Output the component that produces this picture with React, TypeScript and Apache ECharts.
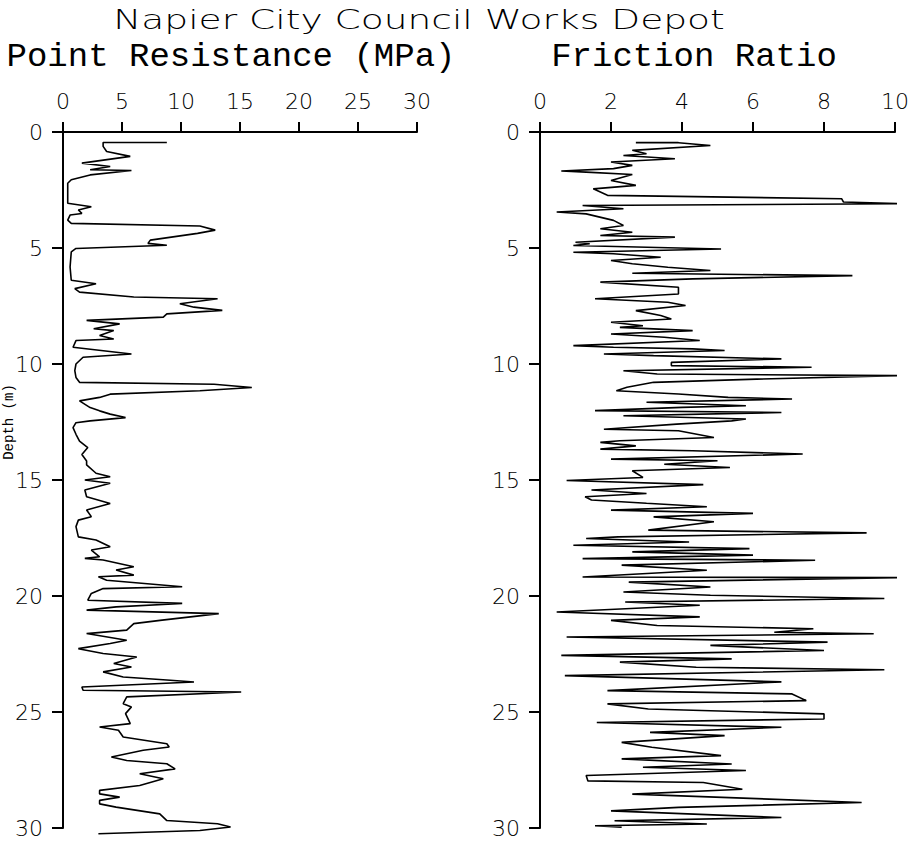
import React, { useEffect, useRef } from "react";
import * as echarts from "echarts";

const TITLE = "Napier City Council Works Depot";
const LEFT_TITLE = "Point Resistance (MPa)";
const RIGHT_TITLE = "Friction Ratio";
const DEPTH_TITLE = "Depth (m)";

const depthTicks = [0, 5, 10, 15, 20, 25, 30];
const qcTicks = [0, 5, 10, 15, 20, 25, 30];
const frTicks = [0, 2, 4, 6, 8, 10];

// Point resistance profile (depth m, qc MPa)
const qcDepth = [
  0.45, 0.45, 0.62, 0.84, 1.05, 1.34, 1.49, 1.63, 1.66, 1.85, 2.06, 2.21, 2.64, 3.07, 3.22, 3.36, 3.51, 3.58, 3.8, 3.94,
  4.05, 4.23, 4.37, 4.66, 4.8, 4.88, 5.02, 5.17, 5.82, 6.39, 6.54, 6.75, 6.9, 7.11, 7.19, 7.4, 7.55, 7.69, 7.84, 7.98,
  8.12, 8.27, 8.48, 8.56, 8.77, 8.92, 8.99, 9.28, 9.57, 9.71, 10.0, 10.29, 10.58, 10.79, 10.87, 11.01, 11.15, 11.3, 11.44, 11.59,
  11.88, 12.02, 12.16, 12.31, 12.45, 12.53, 12.74, 13.03, 13.32, 13.6, 13.9, 14.18, 14.35, 14.71, 14.86, 15.0, 15.14, 15.43, 15.72, 16.01,
  16.29, 16.58, 16.73, 17.01, 17.45, 17.59, 17.88, 18.02, 18.31, 18.38, 18.45, 18.74, 18.88, 19.1, 19.17, 19.32, 19.6, 19.68, 19.89, 20.18,
  20.32, 20.47, 20.61, 20.76, 21.04, 21.19, 21.47, 21.62, 21.91, 22.05, 22.27, 22.48, 22.63, 22.91, 23.06, 23.27, 23.49, 23.63, 23.71, 23.92,
  24.06, 24.14, 24.35, 24.64, 24.78, 25.07, 25.5, 25.65, 25.79, 26.08, 26.37, 26.51, 26.65, 26.94, 27.09, 27.23, 27.45, 27.66, 27.88, 28.17,
  28.38, 28.53, 28.67, 28.81, 28.96, 29.1, 29.39, 29.68, 29.82, 29.96, 30.11, 30.25
];
const qcValue = [
  8.8, 3.4, 3.4, 3.7, 5.7, 1.6, 4.0, 2.3, 5.8, 2.3, 0.7, 0.4, 0.4, 0.4, 2.4, 1.3, 1.6, 0.6, 0.4, 0.7,
  11.6, 12.9, 11.4, 7.4, 7.2, 8.8, 1.1, 0.7, 0.6, 0.7, 2.8, 1.0, 1.4, 6.0, 13.1, 9.9, 11.1, 13.5, 8.8, 8.5,
  2.0, 4.8, 2.6, 4.3, 3.1, 4.3, 1.1, 0.85, 5.8, 1.7, 1.1, 1.0, 1.1, 1.4, 12.8, 16.0, 11.6, 4.0, 3.1, 1.4,
  2.3, 3.1, 4.0, 5.3, 2.3, 1.1, 0.85, 1.1, 1.4, 2.1, 1.6, 2.0, 2.0, 2.8, 4.0, 1.85, 4.0, 1.85, 2.0, 4.0,
  2.0, 2.4, 1.3, 1.1, 1.3, 2.8, 4.0, 2.4, 3.1, 1.85, 3.4, 6.0, 4.5, 6.0, 3.0, 3.7, 10.1, 3.4, 2.4, 2.1,
  10.1, 4.5, 2.0, 13.2, 8.4, 6.0, 5.4, 2.0, 5.4, 4.0, 1.3, 3.4, 6.25, 4.3, 5.8, 3.4, 5.1, 9.1, 11.1, 1.6,
  1.7, 15.1, 5.4, 5.1, 5.8, 5.3, 5.7, 3.1, 4.7, 5.1, 8.8, 9.0, 6.8, 4.1, 5.4, 8.8, 9.5, 6.5, 8.5, 6.5,
  3.1, 3.1, 4.8, 3.1, 3.1, 4.5, 8.2, 8.8, 13.1, 14.2, 11.6, 3.0
];

// Friction ratio profile (depth m, ratio)
const frDepth = [
  0.46, 0.46, 0.58, 0.79, 0.94, 1.01, 1.15, 1.29, 1.44, 1.58, 1.68, 1.73, 1.83, 2.09, 2.3, 2.45, 2.73, 2.88, 3.02, 3.09,
  3.17, 3.31, 3.45, 3.53, 3.81, 4.03, 4.17, 4.32, 4.46, 4.53, 4.75, 4.82, 4.89, 5.04, 5.18, 5.25, 5.4, 5.54, 5.68, 5.83,
  5.97, 6.09, 6.19, 6.33, 6.47, 6.69, 6.98, 7.19, 7.34, 7.48, 7.7, 7.91, 8.06, 8.2, 8.35, 8.42, 8.56, 8.71, 8.85, 8.99,
  9.21, 9.28, 9.35, 9.42, 9.57, 9.64, 9.78, 9.93, 10.07, 10.14, 10.29, 10.43, 10.5, 10.65, 10.79, 11.0, 11.15, 11.29, 11.44, 11.51,
  11.65, 11.8, 11.87, 12.01, 12.09, 12.23, 12.37, 12.45, 12.59, 12.81, 12.88, 13.17, 13.31, 13.38, 13.53, 13.67, 13.74, 13.88, 14.1, 14.17,
  14.32, 14.46, 14.6, 14.89, 15.02, 15.2, 15.43, 15.58, 15.72, 15.86, 16.0, 16.15, 16.3, 16.44, 16.59, 16.8, 17.16, 17.28, 17.45, 17.52,
  17.67, 17.81, 17.96, 18.1, 18.24, 18.39, 18.46, 18.67, 18.89, 19.18, 19.21, 19.4, 19.61, 19.83, 19.97, 20.11, 20.26, 20.4, 20.69, 20.9,
  21.05, 21.27, 21.41, 21.56, 21.63, 21.77, 21.99, 22.13, 22.35, 22.56, 22.71, 22.85, 23.07, 23.18, 23.43, 23.7, 24.08, 24.22, 24.51, 24.65,
  24.87, 25.08, 25.3, 25.45, 25.66, 25.88, 26.02, 26.31, 26.52, 26.88, 27.02, 27.24, 27.38, 27.52, 27.74, 27.97, 28.04, 28.33, 28.54, 28.9,
  29.11, 29.26, 29.55, 29.69, 29.83, 29.9, 29.97
];
const frValue = [
  2.7, 3.9, 4.8, 2.6, 3.0, 2.35, 3.8, 2.0, 2.6, 2.07, 0.6, 1.3, 2.6, 2.0, 2.7, 1.5, 1.9, 8.5, 8.55, 10.1,
  1.2, 2.35, 0.47, 1.3, 2.07, 2.35, 1.7, 2.6, 1.7, 3.8, 1.0, 1.4, 0.94, 5.1, 0.94, 2.07, 3.4, 2.0, 2.6, 3.6,
  4.8, 2.6, 8.8, 4.3, 1.7, 3.9, 3.9, 1.55, 3.6, 4.1, 2.7, 3.4, 3.7, 2.0, 2.9, 2.25, 4.3, 2.0, 3.5, 4.5,
  0.94, 2.07, 4.3, 5.2, 1.8, 3.2, 6.8, 3.7, 3.7, 7.65, 2.35, 3.3, 10.1, 6.1, 3.2, 2.45, 2.15, 3.9, 5.3, 7.1,
  3.0, 5.8, 4.0, 1.55, 6.8, 2.35, 5.8, 5.4, 3.85, 1.8, 3.9, 4.9, 2.25, 1.7, 2.7, 1.7, 4.3, 7.4, 2.0, 5.0,
  3.5, 5.35, 2.6, 2.9, 0.75, 4.6, 1.45, 3.0, 1.27, 1.45, 3.0, 4.7, 2.0, 6.0, 3.2, 4.9, 3.05, 9.2, 2.2, 1.3,
  4.2, 0.94, 5.9, 2.6, 6.0, 1.2, 7.75, 2.3, 4.7, 1.2, 10.1, 2.5, 4.8, 2.35, 4.8, 9.7, 2.4, 4.5, 0.47, 4.5,
  2.0, 3.3, 7.7, 6.6, 9.4, 0.75, 8.1, 4.8, 8.0, 0.6, 5.4, 2.25, 4.4, 9.7, 0.7, 6.8, 1.9, 7.1, 7.5, 1.9,
  3.05, 8.0, 8.0, 1.6, 6.8, 3.1, 5.2, 2.3, 3.15, 5.1, 2.3, 5.4, 2.9, 5.8, 1.3, 1.35, 4.6, 5.7, 2.6, 9.06,
  3.9, 2.0, 6.8, 2.1, 4.7, 1.55, 2.3
];

const TICK_FONT = "DejaVu Sans";
const MONO_FONT = "Liberation Mono";

function measure(text: string, font: string): number {
  const c = document.createElement("canvas").getContext("2d");
  if (!c) return 1;
  c.font = font;
  return c.measureText(text).width || 1;
}

function makeX(gridIndex: number, ticks: number[]) {
  return {
    type: "value",
    gridIndex,
    position: "top",
    min: ticks[0],
    max: ticks[ticks.length - 1],
    interval: ticks[1] - ticks[0],
    axisLine: { show: true, lineStyle: { color: "#000", width: 2 } },
    axisTick: { show: true, inside: false, length: 10, lineStyle: { color: "#000", width: 2 } },
    axisLabel: { color: "#000", fontFamily: TICK_FONT, fontSize: 22, fontWeight: 200, margin: 20 },
    splitLine: { show: false },
  };
}

function makeY(gridIndex: number, ticks: number[]) {
  return {
    type: "value",
    gridIndex,
    inverse: true,
    min: ticks[0],
    max: ticks[ticks.length - 1],
    interval: ticks[1] - ticks[0],
    axisLine: { show: true, lineStyle: { color: "#000", width: 2 } },
    axisTick: { show: true, inside: false, length: 11, lineStyle: { color: "#000", width: 2 } },
    axisLabel: { color: "#000", fontFamily: TICK_FONT, fontSize: 22, fontWeight: 200, margin: 20 },
    splitLine: { show: false },
  };
}

export default function App() {
  const ref = useRef<HTMLDivElement>(null);
  useEffect(() => {
    if (!ref.current) return;
    const chart = echarts.init(ref.current, null, { renderer: "svg" });

    const titleFont = `200 27px "${TICK_FONT}"`;
    const titleScale = 612 / measure(TITLE, titleFont);

    const qcData = qcDepth.map((d, i) => [qcValue[i], d]);
    const frData = frDepth.map((d, i) => [frValue[i], d]);

    chart.setOption({
      animation: false,
      backgroundColor: "#fff",
      grid: [
        { left: 63, top: 132, width: 354, height: 696 },
        { left: 540, top: 132, width: 355, height: 696 },
      ],
      xAxis: [makeX(0, qcTicks), makeX(1, frTicks)],
      yAxis: [makeY(0, depthTicks), makeY(1, depthTicks)],
      series: [
        {
          type: "line",
          xAxisIndex: 0,
          yAxisIndex: 0,
          data: qcData,
          showSymbol: false,
          clip: false,
          lineStyle: { color: "#000", width: 1.6 },
        },
        {
          type: "line",
          xAxisIndex: 1,
          yAxisIndex: 1,
          data: frData,
          showSymbol: false,
          clip: false,
          lineStyle: { color: "#000", width: 1.6 },
        },
      ],
      graphic: [
        {
          type: "text",
          x: 419,
          y: 20,
          scaleX: titleScale,
          scaleY: 1,
          style: { text: TITLE, font: titleFont, fill: "#000", align: "center", verticalAlign: "middle" },
        },
        {
          type: "text",
          x: 231,
          y: 57,
          style: {
            text: LEFT_TITLE,
            fontFamily: MONO_FONT,
            fontSize: 34,
            fill: "#000",
            align: "center",
            verticalAlign: "middle",
          },
        },
        {
          type: "text",
          x: 694,
          y: 57,
          style: {
            text: RIGHT_TITLE,
            fontFamily: MONO_FONT,
            fontSize: 34,
            fill: "#000",
            align: "center",
            verticalAlign: "middle",
          },
        },
        {
          type: "text",
          x: 2,
          y: 422,
          rotation: Math.PI / 2,
          style: {
            text: DEPTH_TITLE,
            fontFamily: MONO_FONT,
            fontSize: 14,
            fill: "#000",
            align: "center",
            verticalAlign: "top",
          },
        },
      ],
    });
    return () => chart.dispose();
  }, []);
  return (
    <div
      ref={ref}
      style={{ position: "fixed", left: 0, top: 0, width: 915, height: 845, background: "#fff" }}
    />
  );
}
